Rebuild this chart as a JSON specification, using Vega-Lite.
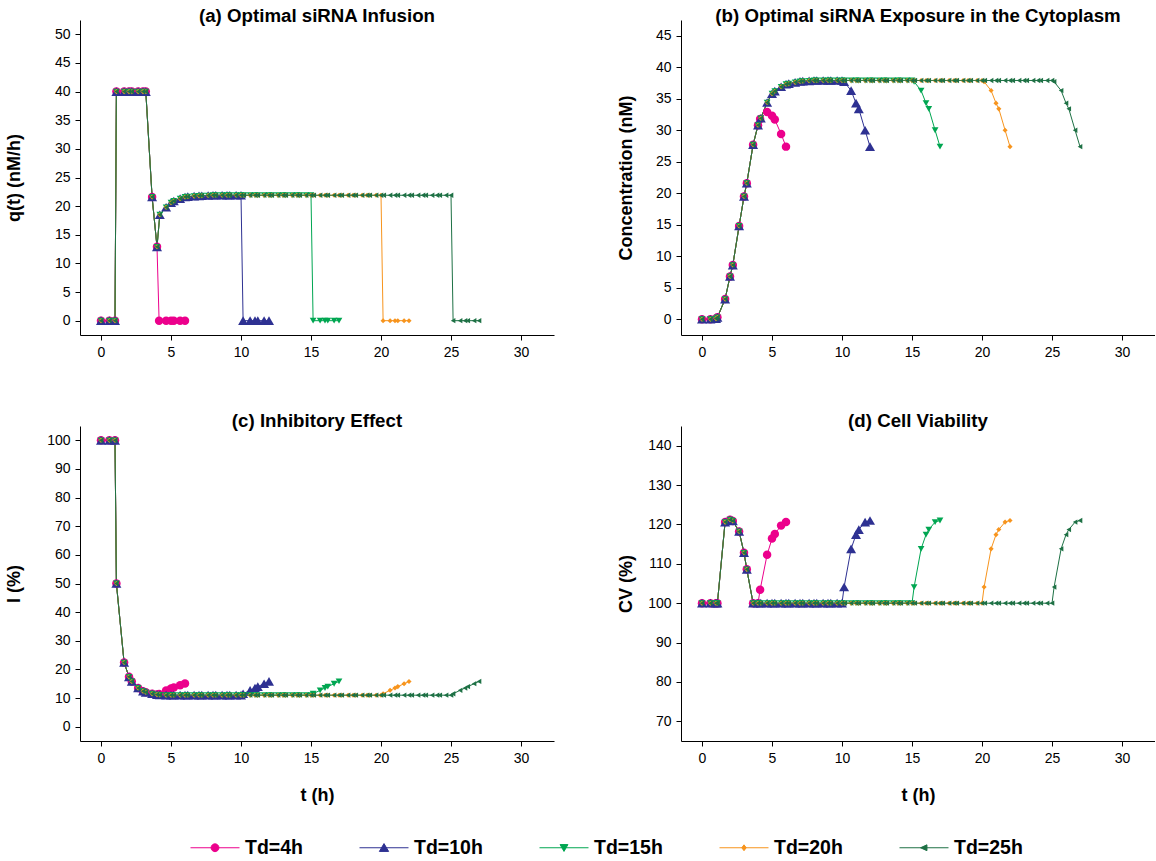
{
"$schema": "https://vega.github.io/schema/vega-lite/v6.json",
"padding": {"left": 5, "top": 7, "right": 0, "bottom": 0},
"background": "#ffffff",
"config": {
  "font": "Liberation Sans",
  "view": {"stroke": null},
  "axis": {"grid": false, "domainColor": "#000000", "tickColor": "#000000", "labelColor": "#000000", "titleColor": "#000000", "labelFontSize": 14, "titleFontSize": 18, "titleFontWeight": "bold", "tickSize": 5, "labelPadding": 5, "labelFont": "Liberation Sans", "titleFont": "Liberation Sans"},
  "title": {"fontSize": 18.7, "fontWeight": "bold", "color": "#000000", "font": "Liberation Sans", "frame": "group", "anchor": "middle", "baseline": "alphabetic"}
},
"datasets": {"d": [
{"s":"Td=4h","t":0,"q":0,"c":0,"i":100,"v":100},
{"s":"Td=4h","t":0.6,"q":0,"c":0,"i":100,"v":100},
{"s":"Td=4h","t":1,"q":0,"c":0.1,"i":100,"v":100},
{"s":"Td=4h","t":1.1,"q":40,"c":0.3,"i":50,"v":100},
{"s":"Td=4h","t":1.65,"q":40,"c":3.2,"i":22.4,"v":120.6},
{"s":"Td=4h","t":2,"q":40,"c":6.8,"i":17.4,"v":121.2},
{"s":"Td=4h","t":2.2,"q":40,"c":8.6,"i":15.8,"v":120.9},
{"s":"Td=4h","t":2.65,"q":40,"c":14.8,"i":13.5,"v":118.2},
{"s":"Td=4h","t":3,"q":40,"c":19.5,"i":12.4,"v":112.8},
{"s":"Td=4h","t":3.2,"q":40,"c":21.6,"i":12,"v":108.6},
{"s":"Td=4h","t":3.65,"q":21.6,"c":27.7,"i":11.5,"v":100},
{"s":"Td=4h","t":4,"q":12.9,"c":30.8,"i":11.2,"v":100},
{"s":"Td=4h","t":4.15,"q":0,"c":31.8,"i":11.4,"v":103.4},
{"s":"Td=4h","t":4.65,"q":0,"c":32.9,"i":12.6,"v":112.3},
{"s":"Td=4h","t":5,"q":0,"c":32.3,"i":13.3,"v":116.4},
{"s":"Td=4h","t":5.2,"q":0,"c":31.7,"i":13.7,"v":117.6},
{"s":"Td=4h","t":5.65,"q":0,"c":29.4,"i":14.5,"v":119.7},
{"s":"Td=4h","t":6,"q":0,"c":27.4,"i":15.1,"v":120.6},

{"s":"Td=10h","t":0,"q":0,"c":0,"i":100,"v":100},
{"s":"Td=10h","t":0.6,"q":0,"c":0,"i":100,"v":100},
{"s":"Td=10h","t":1,"q":0,"c":0.1,"i":100,"v":100},
{"s":"Td=10h","t":1.1,"q":40,"c":0.3,"i":50,"v":100},
{"s":"Td=10h","t":1.65,"q":40,"c":3.2,"i":22.4,"v":120.6},
{"s":"Td=10h","t":2,"q":40,"c":6.8,"i":17.4,"v":121.2},
{"s":"Td=10h","t":2.2,"q":40,"c":8.6,"i":15.8,"v":120.9},
{"s":"Td=10h","t":2.65,"q":40,"c":14.8,"i":13.5,"v":118.2},
{"s":"Td=10h","t":3,"q":40,"c":19.5,"i":12.4,"v":112.8},
{"s":"Td=10h","t":3.2,"q":40,"c":21.6,"i":12,"v":108.6},
{"s":"Td=10h","t":3.65,"q":21.6,"c":27.7,"i":11.5,"v":100},
{"s":"Td=10h","t":4,"q":12.9,"c":30.8,"i":11.2,"v":100},
{"s":"Td=10h","t":4.2,"q":18.5,"c":31.9,"i":11.1,"v":100},
{"s":"Td=10h","t":4.65,"q":19.8,"c":34.4,"i":11,"v":100},
{"s":"Td=10h","t":5,"q":20.6,"c":35.8,"i":11,"v":100},
{"s":"Td=10h","t":5.2,"q":20.9,"c":36.2,"i":11,"v":100},
{"s":"Td=10h","t":5.65,"q":21.3,"c":36.9,"i":11,"v":100},
{"s":"Td=10h","t":6,"q":21.6,"c":37.3,"i":11,"v":100},
{"s":"Td=10h","t":6.2,"q":21.65,"c":37.4,"i":11,"v":100},
{"s":"Td=10h","t":6.65,"q":21.75,"c":37.6,"i":11,"v":100},
{"s":"Td=10h","t":7,"q":21.8,"c":37.75,"i":11,"v":100},
{"s":"Td=10h","t":7.2,"q":21.82,"c":37.8,"i":11,"v":100},
{"s":"Td=10h","t":7.65,"q":21.85,"c":37.85,"i":11,"v":100},
{"s":"Td=10h","t":8,"q":21.9,"c":37.9,"i":11,"v":100},
{"s":"Td=10h","t":8.2,"q":21.9,"c":37.9,"i":11,"v":100},
{"s":"Td=10h","t":8.65,"q":21.9,"c":37.9,"i":11,"v":100},
{"s":"Td=10h","t":9,"q":21.9,"c":37.9,"i":11,"v":100},
{"s":"Td=10h","t":9.2,"q":21.9,"c":37.9,"i":11,"v":100},
{"s":"Td=10h","t":9.65,"q":21.9,"c":37.9,"i":11,"v":100},
{"s":"Td=10h","t":10,"q":21.9,"c":37.9,"i":11,"v":100},
{"s":"Td=10h","t":10.15,"q":0,"c":37.7,"i":11.5,"v":104.1},
{"s":"Td=10h","t":10.65,"q":0,"c":36.3,"i":12.7,"v":113.8},
{"s":"Td=10h","t":11,"q":0,"c":34.3,"i":13.5,"v":117.4},
{"s":"Td=10h","t":11.2,"q":0,"c":33.4,"i":14,"v":118.7},
{"s":"Td=10h","t":11.65,"q":0,"c":30,"i":15,"v":120.6},
{"s":"Td=10h","t":12,"q":0,"c":27.4,"i":15.8,"v":121},

{"s":"Td=15h","t":0,"q":0,"c":0,"i":100,"v":100},
{"s":"Td=15h","t":0.6,"q":0,"c":0,"i":100,"v":100},
{"s":"Td=15h","t":1,"q":0,"c":0.1,"i":100,"v":100},
{"s":"Td=15h","t":1.1,"q":40,"c":0.3,"i":50,"v":100},
{"s":"Td=15h","t":1.65,"q":40,"c":3.2,"i":22.4,"v":120.6},
{"s":"Td=15h","t":2,"q":40,"c":6.8,"i":17.4,"v":121.2},
{"s":"Td=15h","t":2.2,"q":40,"c":8.6,"i":15.8,"v":120.9},
{"s":"Td=15h","t":2.65,"q":40,"c":14.8,"i":13.5,"v":118.2},
{"s":"Td=15h","t":3,"q":40,"c":19.5,"i":12.4,"v":112.8},
{"s":"Td=15h","t":3.2,"q":40,"c":21.6,"i":12,"v":108.6},
{"s":"Td=15h","t":3.65,"q":21.6,"c":27.7,"i":11.5,"v":100},
{"s":"Td=15h","t":4,"q":12.9,"c":30.8,"i":11.2,"v":100},
{"s":"Td=15h","t":4.2,"q":18.5,"c":31.9,"i":11.1,"v":100},
{"s":"Td=15h","t":4.65,"q":19.8,"c":34.4,"i":11,"v":100},
{"s":"Td=15h","t":5,"q":20.6,"c":35.8,"i":11,"v":100},
{"s":"Td=15h","t":5.2,"q":20.9,"c":36.2,"i":11,"v":100},
{"s":"Td=15h","t":5.65,"q":21.3,"c":36.9,"i":11,"v":100},
{"s":"Td=15h","t":6,"q":21.6,"c":37.3,"i":11,"v":100},
{"s":"Td=15h","t":6.2,"q":21.65,"c":37.4,"i":11,"v":100},
{"s":"Td=15h","t":6.65,"q":21.75,"c":37.6,"i":11,"v":100},
{"s":"Td=15h","t":7,"q":21.8,"c":37.75,"i":11,"v":100},
{"s":"Td=15h","t":7.2,"q":21.82,"c":37.8,"i":11,"v":100},
{"s":"Td=15h","t":7.65,"q":21.85,"c":37.85,"i":11,"v":100},
{"s":"Td=15h","t":8,"q":21.9,"c":37.9,"i":11,"v":100},
{"s":"Td=15h","t":8.2,"q":21.9,"c":37.9,"i":11,"v":100},
{"s":"Td=15h","t":8.65,"q":21.9,"c":37.9,"i":11,"v":100},
{"s":"Td=15h","t":9,"q":21.9,"c":37.9,"i":11,"v":100},
{"s":"Td=15h","t":9.2,"q":21.9,"c":37.9,"i":11,"v":100},
{"s":"Td=15h","t":9.65,"q":21.9,"c":37.9,"i":11,"v":100},
{"s":"Td=15h","t":10,"q":21.9,"c":37.9,"i":11,"v":100},
{"s":"Td=15h","t":10.2,"q":21.9,"c":37.9,"i":11,"v":100},
{"s":"Td=15h","t":10.65,"q":21.9,"c":37.9,"i":11,"v":100},
{"s":"Td=15h","t":11,"q":21.9,"c":37.9,"i":11,"v":100},
{"s":"Td=15h","t":11.2,"q":21.9,"c":37.9,"i":11,"v":100},
{"s":"Td=15h","t":11.65,"q":21.9,"c":37.9,"i":11,"v":100},
{"s":"Td=15h","t":12,"q":21.9,"c":37.9,"i":11,"v":100},
{"s":"Td=15h","t":12.2,"q":21.9,"c":37.9,"i":11,"v":100},
{"s":"Td=15h","t":12.65,"q":21.9,"c":37.9,"i":11,"v":100},
{"s":"Td=15h","t":13,"q":21.9,"c":37.9,"i":11,"v":100},
{"s":"Td=15h","t":13.2,"q":21.9,"c":37.9,"i":11,"v":100},
{"s":"Td=15h","t":13.65,"q":21.9,"c":37.9,"i":11,"v":100},
{"s":"Td=15h","t":14,"q":21.9,"c":37.9,"i":11,"v":100},
{"s":"Td=15h","t":14.2,"q":21.9,"c":37.9,"i":11,"v":100},
{"s":"Td=15h","t":14.65,"q":21.9,"c":37.9,"i":11,"v":100},
{"s":"Td=15h","t":15,"q":21.9,"c":37.9,"i":11,"v":100},
{"s":"Td=15h","t":15.15,"q":0,"c":37.7,"i":11.5,"v":104.1},
{"s":"Td=15h","t":15.65,"q":0,"c":36.3,"i":12.7,"v":113.8},
{"s":"Td=15h","t":16,"q":0,"c":34.3,"i":13.5,"v":117.4},
{"s":"Td=15h","t":16.2,"q":0,"c":33.4,"i":14,"v":118.7},
{"s":"Td=15h","t":16.65,"q":0,"c":30,"i":15,"v":120.6},
{"s":"Td=15h","t":17,"q":0,"c":27.4,"i":15.8,"v":121},

{"s":"Td=20h","t":0,"q":0,"c":0,"i":100,"v":100},
{"s":"Td=20h","t":0.6,"q":0,"c":0,"i":100,"v":100},
{"s":"Td=20h","t":1,"q":0,"c":0.1,"i":100,"v":100},
{"s":"Td=20h","t":1.1,"q":40,"c":0.3,"i":50,"v":100},
{"s":"Td=20h","t":1.65,"q":40,"c":3.2,"i":22.4,"v":120.6},
{"s":"Td=20h","t":2,"q":40,"c":6.8,"i":17.4,"v":121.2},
{"s":"Td=20h","t":2.2,"q":40,"c":8.6,"i":15.8,"v":120.9},
{"s":"Td=20h","t":2.65,"q":40,"c":14.8,"i":13.5,"v":118.2},
{"s":"Td=20h","t":3,"q":40,"c":19.5,"i":12.4,"v":112.8},
{"s":"Td=20h","t":3.2,"q":40,"c":21.6,"i":12,"v":108.6},
{"s":"Td=20h","t":3.65,"q":21.6,"c":27.7,"i":11.5,"v":100},
{"s":"Td=20h","t":4,"q":12.9,"c":30.8,"i":11.2,"v":100},
{"s":"Td=20h","t":4.2,"q":18.5,"c":31.9,"i":11.1,"v":100},
{"s":"Td=20h","t":4.65,"q":19.8,"c":34.4,"i":11,"v":100},
{"s":"Td=20h","t":5,"q":20.6,"c":35.8,"i":11,"v":100},
{"s":"Td=20h","t":5.2,"q":20.9,"c":36.2,"i":11,"v":100},
{"s":"Td=20h","t":5.65,"q":21.3,"c":36.9,"i":11,"v":100},
{"s":"Td=20h","t":6,"q":21.6,"c":37.3,"i":11,"v":100},
{"s":"Td=20h","t":6.2,"q":21.65,"c":37.4,"i":11,"v":100},
{"s":"Td=20h","t":6.65,"q":21.75,"c":37.6,"i":11,"v":100},
{"s":"Td=20h","t":7,"q":21.8,"c":37.75,"i":11,"v":100},
{"s":"Td=20h","t":7.2,"q":21.82,"c":37.8,"i":11,"v":100},
{"s":"Td=20h","t":7.65,"q":21.85,"c":37.85,"i":11,"v":100},
{"s":"Td=20h","t":8,"q":21.9,"c":37.9,"i":11,"v":100},
{"s":"Td=20h","t":8.2,"q":21.9,"c":37.9,"i":11,"v":100},
{"s":"Td=20h","t":8.65,"q":21.9,"c":37.9,"i":11,"v":100},
{"s":"Td=20h","t":9,"q":21.9,"c":37.9,"i":11,"v":100},
{"s":"Td=20h","t":9.2,"q":21.9,"c":37.9,"i":11,"v":100},
{"s":"Td=20h","t":9.65,"q":21.9,"c":37.9,"i":11,"v":100},
{"s":"Td=20h","t":10,"q":21.9,"c":37.9,"i":11,"v":100},
{"s":"Td=20h","t":10.2,"q":21.9,"c":37.9,"i":11,"v":100},
{"s":"Td=20h","t":10.65,"q":21.9,"c":37.9,"i":11,"v":100},
{"s":"Td=20h","t":11,"q":21.9,"c":37.9,"i":11,"v":100},
{"s":"Td=20h","t":11.2,"q":21.9,"c":37.9,"i":11,"v":100},
{"s":"Td=20h","t":11.65,"q":21.9,"c":37.9,"i":11,"v":100},
{"s":"Td=20h","t":12,"q":21.9,"c":37.9,"i":11,"v":100},
{"s":"Td=20h","t":12.2,"q":21.9,"c":37.9,"i":11,"v":100},
{"s":"Td=20h","t":12.65,"q":21.9,"c":37.9,"i":11,"v":100},
{"s":"Td=20h","t":13,"q":21.9,"c":37.9,"i":11,"v":100},
{"s":"Td=20h","t":13.2,"q":21.9,"c":37.9,"i":11,"v":100},
{"s":"Td=20h","t":13.65,"q":21.9,"c":37.9,"i":11,"v":100},
{"s":"Td=20h","t":14,"q":21.9,"c":37.9,"i":11,"v":100},
{"s":"Td=20h","t":14.2,"q":21.9,"c":37.9,"i":11,"v":100},
{"s":"Td=20h","t":14.65,"q":21.9,"c":37.9,"i":11,"v":100},
{"s":"Td=20h","t":15,"q":21.9,"c":37.9,"i":11,"v":100},
{"s":"Td=20h","t":15.2,"q":21.9,"c":37.9,"i":11,"v":100},
{"s":"Td=20h","t":15.65,"q":21.9,"c":37.9,"i":11,"v":100},
{"s":"Td=20h","t":16,"q":21.9,"c":37.9,"i":11,"v":100},
{"s":"Td=20h","t":16.2,"q":21.9,"c":37.9,"i":11,"v":100},
{"s":"Td=20h","t":16.65,"q":21.9,"c":37.9,"i":11,"v":100},
{"s":"Td=20h","t":17,"q":21.9,"c":37.9,"i":11,"v":100},
{"s":"Td=20h","t":17.2,"q":21.9,"c":37.9,"i":11,"v":100},
{"s":"Td=20h","t":17.65,"q":21.9,"c":37.9,"i":11,"v":100},
{"s":"Td=20h","t":18,"q":21.9,"c":37.9,"i":11,"v":100},
{"s":"Td=20h","t":18.2,"q":21.9,"c":37.9,"i":11,"v":100},
{"s":"Td=20h","t":18.65,"q":21.9,"c":37.9,"i":11,"v":100},
{"s":"Td=20h","t":19,"q":21.9,"c":37.9,"i":11,"v":100},
{"s":"Td=20h","t":19.2,"q":21.9,"c":37.9,"i":11,"v":100},
{"s":"Td=20h","t":19.65,"q":21.9,"c":37.9,"i":11,"v":100},
{"s":"Td=20h","t":20,"q":21.9,"c":37.9,"i":11,"v":100},
{"s":"Td=20h","t":20.15,"q":0,"c":37.7,"i":11.5,"v":104.1},
{"s":"Td=20h","t":20.65,"q":0,"c":36.3,"i":12.7,"v":113.8},
{"s":"Td=20h","t":21,"q":0,"c":34.3,"i":13.5,"v":117.4},
{"s":"Td=20h","t":21.2,"q":0,"c":33.4,"i":14,"v":118.7},
{"s":"Td=20h","t":21.65,"q":0,"c":30,"i":15,"v":120.6},
{"s":"Td=20h","t":22,"q":0,"c":27.4,"i":15.8,"v":121},

{"s":"Td=25h","t":0,"q":0,"c":0,"i":100,"v":100},
{"s":"Td=25h","t":0.6,"q":0,"c":0,"i":100,"v":100},
{"s":"Td=25h","t":1,"q":0,"c":0.1,"i":100,"v":100},
{"s":"Td=25h","t":1.1,"q":40,"c":0.3,"i":50,"v":100},
{"s":"Td=25h","t":1.65,"q":40,"c":3.2,"i":22.4,"v":120.6},
{"s":"Td=25h","t":2,"q":40,"c":6.8,"i":17.4,"v":121.2},
{"s":"Td=25h","t":2.2,"q":40,"c":8.6,"i":15.8,"v":120.9},
{"s":"Td=25h","t":2.65,"q":40,"c":14.8,"i":13.5,"v":118.2},
{"s":"Td=25h","t":3,"q":40,"c":19.5,"i":12.4,"v":112.8},
{"s":"Td=25h","t":3.2,"q":40,"c":21.6,"i":12,"v":108.6},
{"s":"Td=25h","t":3.65,"q":21.6,"c":27.7,"i":11.5,"v":100},
{"s":"Td=25h","t":4,"q":12.9,"c":30.8,"i":11.2,"v":100},
{"s":"Td=25h","t":4.2,"q":18.5,"c":31.9,"i":11.1,"v":100},
{"s":"Td=25h","t":4.65,"q":19.8,"c":34.4,"i":11,"v":100},
{"s":"Td=25h","t":5,"q":20.6,"c":35.8,"i":11,"v":100},
{"s":"Td=25h","t":5.2,"q":20.9,"c":36.2,"i":11,"v":100},
{"s":"Td=25h","t":5.65,"q":21.3,"c":36.9,"i":11,"v":100},
{"s":"Td=25h","t":6,"q":21.6,"c":37.3,"i":11,"v":100},
{"s":"Td=25h","t":6.2,"q":21.65,"c":37.4,"i":11,"v":100},
{"s":"Td=25h","t":6.65,"q":21.75,"c":37.6,"i":11,"v":100},
{"s":"Td=25h","t":7,"q":21.8,"c":37.75,"i":11,"v":100},
{"s":"Td=25h","t":7.2,"q":21.82,"c":37.8,"i":11,"v":100},
{"s":"Td=25h","t":7.65,"q":21.85,"c":37.85,"i":11,"v":100},
{"s":"Td=25h","t":8,"q":21.9,"c":37.9,"i":11,"v":100},
{"s":"Td=25h","t":8.2,"q":21.9,"c":37.9,"i":11,"v":100},
{"s":"Td=25h","t":8.65,"q":21.9,"c":37.9,"i":11,"v":100},
{"s":"Td=25h","t":9,"q":21.9,"c":37.9,"i":11,"v":100},
{"s":"Td=25h","t":9.2,"q":21.9,"c":37.9,"i":11,"v":100},
{"s":"Td=25h","t":9.65,"q":21.9,"c":37.9,"i":11,"v":100},
{"s":"Td=25h","t":10,"q":21.9,"c":37.9,"i":11,"v":100},
{"s":"Td=25h","t":10.2,"q":21.9,"c":37.9,"i":11,"v":100},
{"s":"Td=25h","t":10.65,"q":21.9,"c":37.9,"i":11,"v":100},
{"s":"Td=25h","t":11,"q":21.9,"c":37.9,"i":11,"v":100},
{"s":"Td=25h","t":11.2,"q":21.9,"c":37.9,"i":11,"v":100},
{"s":"Td=25h","t":11.65,"q":21.9,"c":37.9,"i":11,"v":100},
{"s":"Td=25h","t":12,"q":21.9,"c":37.9,"i":11,"v":100},
{"s":"Td=25h","t":12.2,"q":21.9,"c":37.9,"i":11,"v":100},
{"s":"Td=25h","t":12.65,"q":21.9,"c":37.9,"i":11,"v":100},
{"s":"Td=25h","t":13,"q":21.9,"c":37.9,"i":11,"v":100},
{"s":"Td=25h","t":13.2,"q":21.9,"c":37.9,"i":11,"v":100},
{"s":"Td=25h","t":13.65,"q":21.9,"c":37.9,"i":11,"v":100},
{"s":"Td=25h","t":14,"q":21.9,"c":37.9,"i":11,"v":100},
{"s":"Td=25h","t":14.2,"q":21.9,"c":37.9,"i":11,"v":100},
{"s":"Td=25h","t":14.65,"q":21.9,"c":37.9,"i":11,"v":100},
{"s":"Td=25h","t":15,"q":21.9,"c":37.9,"i":11,"v":100},
{"s":"Td=25h","t":15.2,"q":21.9,"c":37.9,"i":11,"v":100},
{"s":"Td=25h","t":15.65,"q":21.9,"c":37.9,"i":11,"v":100},
{"s":"Td=25h","t":16,"q":21.9,"c":37.9,"i":11,"v":100},
{"s":"Td=25h","t":16.2,"q":21.9,"c":37.9,"i":11,"v":100},
{"s":"Td=25h","t":16.65,"q":21.9,"c":37.9,"i":11,"v":100},
{"s":"Td=25h","t":17,"q":21.9,"c":37.9,"i":11,"v":100},
{"s":"Td=25h","t":17.2,"q":21.9,"c":37.9,"i":11,"v":100},
{"s":"Td=25h","t":17.65,"q":21.9,"c":37.9,"i":11,"v":100},
{"s":"Td=25h","t":18,"q":21.9,"c":37.9,"i":11,"v":100},
{"s":"Td=25h","t":18.2,"q":21.9,"c":37.9,"i":11,"v":100},
{"s":"Td=25h","t":18.65,"q":21.9,"c":37.9,"i":11,"v":100},
{"s":"Td=25h","t":19,"q":21.9,"c":37.9,"i":11,"v":100},
{"s":"Td=25h","t":19.2,"q":21.9,"c":37.9,"i":11,"v":100},
{"s":"Td=25h","t":19.65,"q":21.9,"c":37.9,"i":11,"v":100},
{"s":"Td=25h","t":20,"q":21.9,"c":37.9,"i":11,"v":100},
{"s":"Td=25h","t":20.2,"q":21.9,"c":37.9,"i":11,"v":100},
{"s":"Td=25h","t":20.65,"q":21.9,"c":37.9,"i":11,"v":100},
{"s":"Td=25h","t":21,"q":21.9,"c":37.9,"i":11,"v":100},
{"s":"Td=25h","t":21.2,"q":21.9,"c":37.9,"i":11,"v":100},
{"s":"Td=25h","t":21.65,"q":21.9,"c":37.9,"i":11,"v":100},
{"s":"Td=25h","t":22,"q":21.9,"c":37.9,"i":11,"v":100},
{"s":"Td=25h","t":22.2,"q":21.9,"c":37.9,"i":11,"v":100},
{"s":"Td=25h","t":22.65,"q":21.9,"c":37.9,"i":11,"v":100},
{"s":"Td=25h","t":23,"q":21.9,"c":37.9,"i":11,"v":100},
{"s":"Td=25h","t":23.2,"q":21.9,"c":37.9,"i":11,"v":100},
{"s":"Td=25h","t":23.65,"q":21.9,"c":37.9,"i":11,"v":100},
{"s":"Td=25h","t":24,"q":21.9,"c":37.9,"i":11,"v":100},
{"s":"Td=25h","t":24.2,"q":21.9,"c":37.9,"i":11,"v":100},
{"s":"Td=25h","t":24.65,"q":21.9,"c":37.9,"i":11,"v":100},
{"s":"Td=25h","t":25,"q":21.9,"c":37.9,"i":11,"v":100},
{"s":"Td=25h","t":25.15,"q":0,"c":37.7,"i":11.5,"v":104.1},
{"s":"Td=25h","t":25.65,"q":0,"c":36.3,"i":12.7,"v":113.8},
{"s":"Td=25h","t":26,"q":0,"c":34.3,"i":13.5,"v":117.4},
{"s":"Td=25h","t":26.2,"q":0,"c":33.4,"i":14,"v":118.7},
{"s":"Td=25h","t":26.65,"q":0,"c":30,"i":15,"v":120.6},
{"s":"Td=25h","t":27,"q":0,"c":27.4,"i":15.8,"v":121}
]},
"vconcat": [
 {"hconcat": [
  {"width": 474, "height": 315, "data": {"name": "d"},
   "title": {"text": "(a) Optimal siRNA Infusion", "offset": -6},
   "encoding": {
    "x": {"field": "t", "type": "quantitative", "scale": {"domain": [-1.5, 32.357], "nice": false, "zero": false}, "axis": {"values": [0,5,10,15,20,25,30], "title": null}},
    "y": {"field": "q", "type": "quantitative", "scale": {"domain": [-2.5, 52.5], "nice": false, "zero": false}, "axis": {"values": [0,5,10,15,20,25,30,35,40,45,50], "title": "q(t) (nM/h)", "titleX": -66, "titleY": 157.5, "titleAlign": "center", "titleBaseline": "middle", "titleAngle": 270}},
    "color": {"field": "s", "type": "nominal", "scale": {"domain": ["Td=4h","Td=10h","Td=15h","Td=20h","Td=25h"], "range": ["#EC008C","#2E3192","#00A651","#F7941D","#1E7145"]},
      "legend": {"orient": "none", "legendX": 110, "legendY": 802.5, "direction": "horizontal", "title": null, "padding": 0, "labelFontSize": 19.5, "labelFontWeight": "bold", "labelColor": "#000000", "labelFont": "Liberation Sans", "symbolSize": 2401, "labelOffset": 5, "columnPadding": 54,
        "encode": {"symbols": {"update": {
          "shape": {"signal": "{'Td=4h':'M-1,0H1M0.16,0A0.16,0.16,0,1,1,-0.16,0A0.16,0.16,0,1,1,0.16,0Z','Td=10h':'M-1,0H1M0,-0.17L0.19,0.15L-0.19,0.15Z','Td=15h':'M-1,0H1M0,0.15L0.16,-0.13L-0.16,-0.13Z','Td=20h':'M-1,0H1M0,-0.12L0.09,0L0,0.12L-0.09,0Z','Td=25h':'M-1,0H1M-0.14,0L0.12,-0.12L0.12,0.12Z'}[datum.value]"},
          "size": {"value": 2401},
          "fill": {"signal": "{'Td=4h':'#EC008C','Td=10h':'#2E3192','Td=15h':'#00A651','Td=20h':'#F7941D','Td=25h':'#1E7145'}[datum.value]"},
          "stroke": {"signal": "{'Td=4h':'#EC008C','Td=10h':'#2E3192','Td=15h':'#00A651','Td=20h':'#F7941D','Td=25h':'#1E7145'}[datum.value]"},
          "strokeWidth": {"value": 1},
          "opacity": {"value": 1},
          "fillOpacity": {"value": 1},
          "strokeOpacity": {"value": 1}
        }}}}}
   },
   "layer": [
    {"mark": {"type": "line", "strokeWidth": 1}, "encoding": {}},
    {"mark": {"type": "point", "filled": true, "opacity": 1, "strokeWidth": 0},
     "encoding": {
      "shape": {"field": "s", "type": "nominal", "scale": {"domain": ["Td=10h","Td=4h","Td=15h","Td=20h","Td=25h"], "range": ["triangle-up","circle","triangle-down","diamond","triangle-left"]}, "legend": null},
      "size": {"field": "s", "type": "nominal", "scale": {"type": "ordinal", "domain": ["Td=15h","Td=4h","Td=10h","Td=20h","Td=25h"], "range": [45, 72, 100, 26, 28]}, "legend": null}}}
   ]},
  {"width": 474, "height": 315, "data": {"name": "d"},
   "title": {"text": "(b) Optimal siRNA Exposure in the Cytoplasm", "offset": -6},
   "encoding": {
    "x": {"field": "t", "type": "quantitative", "scale": {"domain": [-1.5, 32.357], "nice": false, "zero": false}, "axis": {"values": [0,5,10,15,20,25,30], "title": null}},
    "y": {"field": "c", "type": "quantitative", "scale": {"domain": [-2.5, 47.5], "nice": false, "zero": false}, "axis": {"values": [0,5,10,15,20,25,30,35,40,45], "title": "Concentration (nM)", "titleX": -55, "titleY": 157.5, "titleAlign": "center", "titleBaseline": "middle", "titleAngle": 270}},
    "color": {"field": "s", "type": "nominal", "scale": {"domain": ["Td=4h","Td=10h","Td=15h","Td=20h","Td=25h"], "range": ["#EC008C","#2E3192","#00A651","#F7941D","#1E7145"]}}
   },
   "layer": [
    {"mark": {"type": "line", "strokeWidth": 1}, "encoding": {}},
    {"mark": {"type": "point", "filled": true, "opacity": 1, "strokeWidth": 0},
     "encoding": {
      "shape": {"field": "s", "type": "nominal", "scale": {"domain": ["Td=10h","Td=4h","Td=15h","Td=20h","Td=25h"], "range": ["triangle-up","circle","triangle-down","diamond","triangle-left"]}, "legend": null},
      "size": {"field": "s", "type": "nominal", "scale": {"type": "ordinal", "domain": ["Td=15h","Td=4h","Td=10h","Td=20h","Td=25h"], "range": [45, 72, 100, 26, 28]}, "legend": null}}}
   ]}
 ], "spacing": 63},
 {"hconcat": [
  {"width": 474, "height": 315, "data": {"name": "d"},
   "title": {"text": "(c) Inhibitory Effect", "offset": -5},
   "encoding": {
    "x": {"field": "t", "type": "quantitative", "scale": {"domain": [-1.5, 32.357], "nice": false, "zero": false}, "axis": {"values": [0,5,10,15,20,25,30], "title": "t (h)", "titleY": 54, "titleBaseline": "middle"}},
    "y": {"field": "i", "type": "quantitative", "scale": {"domain": [-5, 105], "nice": false, "zero": false}, "axis": {"values": [0,10,20,30,40,50,60,70,80,90,100], "title": "I (%)", "titleX": -66, "titleY": 157.5, "titleAlign": "center", "titleBaseline": "middle", "titleAngle": 270}},
    "color": {"field": "s", "type": "nominal", "scale": {"domain": ["Td=4h","Td=10h","Td=15h","Td=20h","Td=25h"], "range": ["#EC008C","#2E3192","#00A651","#F7941D","#1E7145"]}}
   },
   "layer": [
    {"mark": {"type": "line", "strokeWidth": 1}, "encoding": {}},
    {"mark": {"type": "point", "filled": true, "opacity": 1, "strokeWidth": 0},
     "encoding": {
      "shape": {"field": "s", "type": "nominal", "scale": {"domain": ["Td=10h","Td=4h","Td=15h","Td=20h","Td=25h"], "range": ["triangle-up","circle","triangle-down","diamond","triangle-left"]}, "legend": null},
      "size": {"field": "s", "type": "nominal", "scale": {"type": "ordinal", "domain": ["Td=15h","Td=4h","Td=10h","Td=20h","Td=25h"], "range": [45, 72, 100, 26, 28]}, "legend": null}}}
   ]},
  {"width": 474, "height": 315, "data": {"name": "d"},
   "title": {"text": "(d) Cell Viability", "offset": -5},
   "encoding": {
    "x": {"field": "t", "type": "quantitative", "scale": {"domain": [-1.5, 32.357], "nice": false, "zero": false}, "axis": {"values": [0,5,10,15,20,25,30], "title": "t (h)", "titleY": 54, "titleBaseline": "middle"}},
    "y": {"field": "v", "type": "quantitative", "scale": {"domain": [65, 145], "nice": false, "zero": false}, "axis": {"values": [70,80,90,100,110,120,130,140], "title": "CV (%)", "titleX": -55, "titleY": 157.5, "titleAlign": "center", "titleBaseline": "middle", "titleAngle": 270}},
    "color": {"field": "s", "type": "nominal", "scale": {"domain": ["Td=4h","Td=10h","Td=15h","Td=20h","Td=25h"], "range": ["#EC008C","#2E3192","#00A651","#F7941D","#1E7145"]}}
   },
   "layer": [
    {"mark": {"type": "line", "strokeWidth": 1}, "encoding": {}},
    {"mark": {"type": "point", "filled": true, "opacity": 1, "strokeWidth": 0},
     "encoding": {
      "shape": {"field": "s", "type": "nominal", "scale": {"domain": ["Td=10h","Td=4h","Td=15h","Td=20h","Td=25h"], "range": ["triangle-up","circle","triangle-down","diamond","triangle-left"]}, "legend": null},
      "size": {"field": "s", "type": "nominal", "scale": {"type": "ordinal", "domain": ["Td=15h","Td=4h","Td=10h","Td=20h","Td=25h"], "range": [45, 72, 100, 26, 28]}, "legend": null}}}
   ]}
 ], "spacing": 63}
],
"spacing": 53
}
